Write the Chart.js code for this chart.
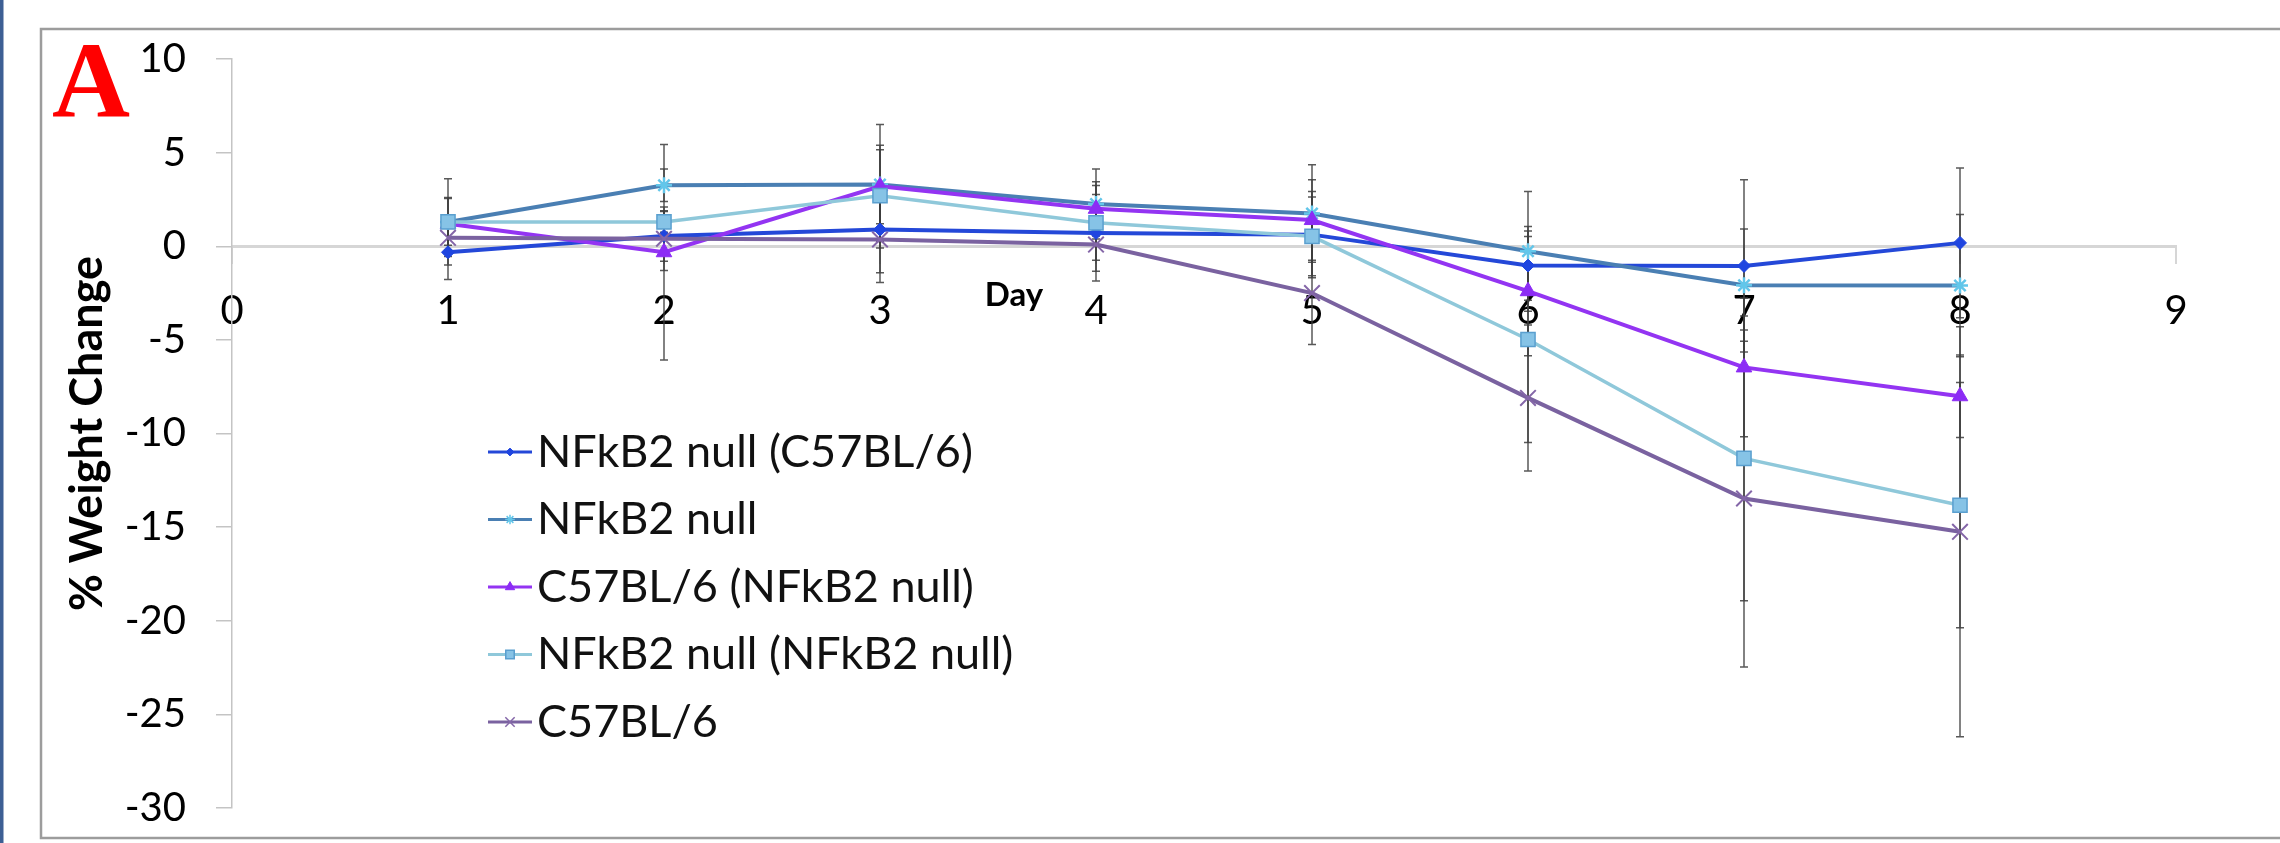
<!DOCTYPE html>
<html>
<head>
<meta charset="utf-8">
<script src="https://cdn.jsdelivr.net/npm/chart.js@4.4.1/dist/chart.umd.min.js"></script>
<style>
html,body{margin:0;padding:0;background:#ffffff;}
canvas{display:block;}
</style>
</head>
<body>
<canvas id="c" width="2280" height="843"></canvas>
<script>
// ---------------- data ----------------
const days = [1, 2, 3, 4, 5, 6, 7, 8];
const seriesLabels = ["NFkB2 null (C57BL/6)", "NFkB2 null", "C57BL/6 (NFkB2 null)", "NFkB2 null (NFkB2 null)", "C57BL/6"];
const nullInC57 = [-0.32, 0.55, 0.89, 0.71, 0.62, -1.03, -1.05, 0.18];
const nullInC57Err = [1.45, 1.35, 2.3, 2.05, 2.3, 1.85, 4.6, 4.0];
const nullOnly = [1.3, 3.26, 3.3, 2.26, 1.75, -0.27, -2.08, -2.1];
const nullOnlyErr = [2.3, 0.87, 2.1, 1.87, 2.6, 3.2, 3.0, 3.8];
const c57InNull = [1.2, -0.32, 3.2, 2.0, 1.4, -2.4, -6.47, -8.01];
const c57InNullErr = [1.4, 5.75, 3.3, 1.45, 2.15, 3.45, 3.7, 2.2];
const nullInNull = [1.3, 1.3, 2.7, 1.25, 0.53, -4.98, -11.33, -13.83];
const nullInNullErr = [1.25, 0.55, 2.45, 2.0, 2.1, 5.5, 7.6, 6.55];
const c57Only = [0.45, 0.4, 0.36, 0.09, -2.5, -8.1, -13.47, -15.25];
const c57OnlyErr = [1.0, 1.7, 2.3, 1.95, 2.75, 3.9, 9.0, 10.95];
const xTickValues = [0, 1, 2, 3, 4, 5, 6, 7, 8, 9];
const yTickValues = [10, 5, 0, -5, -10, -15, -20, -25, -30];
const xAxisTitle = "Day";
const yAxisTitle = "% Weight Change";
const panelLabel = "A";

// ---------------- styles ----------------
const FONT = 'Lato, "Open Sans", sans-serif';
const styles = [
  {line: '#2448d8', pt: 'rectRot',  r: 6.5, fill: '#1f45e0', stroke: '#1f45e0', bw: 1,   lw: 4},
  {line: '#4a7fb3', pt: 'star',     r: 8,   fill: '#62c6ea', stroke: '#62c6ea', bw: 2.5, lw: 4},
  {line: '#9334f2', pt: 'triangle', r: 9,   fill: '#8c2cf5', stroke: '#8c2cf5', bw: 1,   lw: 4},
  {line: '#8fc8da', pt: 'rect',     r: 10,  fill: '#86c3e6', stroke: '#5a9fcf', bw: 1.5, lw: 3.5},
  {line: '#7a62a0', pt: 'crossRot', r: 11,  fill: '#8466a8', stroke: '#8466a8', bw: 2,   lw: 4}
];
const seriesValues = [nullInC57, nullOnly, c57InNull, nullInNull, c57Only];
const seriesErrors = [nullInC57Err, nullOnlyErr, c57InNullErr, nullInNullErr, c57OnlyErr];

const datasets = seriesValues.map((vals, i) => ({
  label: seriesLabels[i],
  data: days.map((d, j) => ({x: d, y: vals[j]})),
  errors: seriesErrors[i],
  borderColor: styles[i].line,
  borderWidth: styles[i].lw,
  backgroundColor: styles[i].fill,
  pointStyle: styles[i].pt,
  pointRadius: styles[i].r,
  pointBackgroundColor: styles[i].fill,
  pointBorderColor: styles[i].stroke,
  pointBorderWidth: styles[i].bw,
  tension: 0,
  fill: false,
  order: seriesValues.length - i
}));

// plot rectangle of the original
const AREA = {top: 59, bottom: 808, left: 232, right: 2176};

// ---------------- plugins ----------------
const decor = {
  id: 'decor',
  beforeDraw(chart) {
    const ctx = chart.ctx;
    ctx.save();
    ctx.fillStyle = '#ffffff';
    ctx.fillRect(0, 0, chart.width, chart.height);
    ctx.strokeStyle = '#9c9c9c';
    ctx.lineWidth = 2.5;
    ctx.strokeRect(41, 29, chart.width, 809);
    ctx.fillStyle = '#3d5f94';
    ctx.fillRect(0, 0, 3.5, chart.height);
    ctx.restore();
  },
  afterDraw(chart) {
    const ctx = chart.ctx;
    const xs = chart.scales.x, ys = chart.scales.y;
    ctx.save();
    ctx.fillStyle = '#ff0000';
    ctx.font = 'bold 108px "Liberation Serif", "Times New Roman", serif';
    ctx.textAlign = 'left';
    ctx.textBaseline = 'alphabetic';
    ctx.fillText(panelLabel, 52, 117);
    ctx.fillStyle = '#000000';
    ctx.font = 'bold 33px ' + FONT;
    ctx.textAlign = 'center';
    ctx.textBaseline = 'middle';
    ctx.fillText(xAxisTitle, xs.getPixelForValue(3.62), ys.getPixelForValue(-2.6));
    const x0 = 488, x1 = 532, tx = 537, y0 = 452, step = 67.5;
    chart.data.datasets.forEach((ds, i) => {
      const y = y0 + i * step;
      ctx.strokeStyle = ds.borderColor;
      ctx.lineWidth = 3;
      ctx.beginPath(); ctx.moveTo(x0, y); ctx.lineTo(x1, y); ctx.stroke();
      ctx.fillStyle = ds.pointBackgroundColor;
      ctx.strokeStyle = ds.pointBorderColor;
      ctx.lineWidth = Math.min(ds.pointBorderWidth, 1.5);
      if (Chart.helpers && Chart.helpers.drawPoint) {
        Chart.helpers.drawPoint(ctx, {pointStyle: ds.pointStyle, radius: ds.pointRadius * 0.6, borderWidth: ctx.lineWidth, rotation: 0}, (x0 + x1) / 2, y);
      }
      ctx.fillStyle = '#111111';
      ctx.font = '45px ' + FONT;
      ctx.textAlign = 'left';
      ctx.textBaseline = 'middle';
      ctx.fillText(ds.label, tx, y);
    });
    ctx.restore();
  }
};

const errorBars = {
  id: 'errorBars',
  beforeDatasetsDraw(chart) {
    const ctx = chart.ctx, ys = chart.scales.y;
    ctx.save();
    ctx.strokeStyle = 'rgba(60,60,60,0.85)';
    ctx.lineWidth = 1.5;
    chart.data.datasets.forEach((ds, i) => {
      const meta = chart.getDatasetMeta(i);
      ds.errors.forEach((e, j) => {
        const pt = meta.data[j];
        const v = ds.data[j].y;
        const yt = ys.getPixelForValue(v + e), yb = ys.getPixelForValue(v - e);
        ctx.beginPath();
        ctx.moveTo(pt.x, yt); ctx.lineTo(pt.x, yb);
        ctx.moveTo(pt.x - 4, yt); ctx.lineTo(pt.x + 4, yt);
        ctx.moveTo(pt.x - 4, yb); ctx.lineTo(pt.x + 4, yb);
        ctx.stroke();
      });
    });
    ctx.restore();
  }
};

new Chart(document.getElementById('c'), {
  type: 'line',
  data: {datasets},
  plugins: [decor, errorBars],
  options: {
    responsive: false,
    animation: false,
    devicePixelRatio: 1,
    events: [],
    layout: {padding: {left: 0, top: AREA.top, right: 2280 - AREA.right, bottom: 843 - AREA.bottom}},
    plugins: {legend: {display: false}, tooltip: {enabled: false}, title: {display: false}},
    scales: {
      x: {
        type: 'linear',
        min: xTickValues[0],
        max: xTickValues[xTickValues.length - 1],
        position: {y: 0},
        afterBuildTicks: (s) => { s.ticks = xTickValues.map(v => ({value: v})); },
        ticks: {font: {family: FONT, size: 40}, color: '#000000', padding: 25, maxRotation: 0, autoSkip: false},
        grid: {display: true, drawOnChartArea: false, drawTicks: true, tickLength: 16, color: '#d6d6d6', lineWidth: 2},
        border: {display: true, color: '#d6d6d6', width: 3}
      },
      y: {
        type: 'linear',
        min: Math.min(...yTickValues),
        max: Math.max(...yTickValues),
        afterBuildTicks: (s) => { s.ticks = yTickValues.map(v => ({value: v})); },
        afterFit: (s) => { s.width = AREA.left; },
        ticks: {font: {family: FONT, size: 40, lineHeight: 0.1}, color: '#000000', padding: 30},
        grid: {display: true, drawOnChartArea: false, drawTicks: true, tickLength: 16, color: '#c4c4c4', lineWidth: 1.5},
        border: {display: true, color: '#c4c4c4', width: 1.5},
        title: {display: true, text: yAxisTitle, font: {family: FONT, size: 45, weight: 'bold'}, color: '#000000', padding: {top: 60, bottom: 0}}
      }
    }
  }
});
</script>
</body>
</html>
